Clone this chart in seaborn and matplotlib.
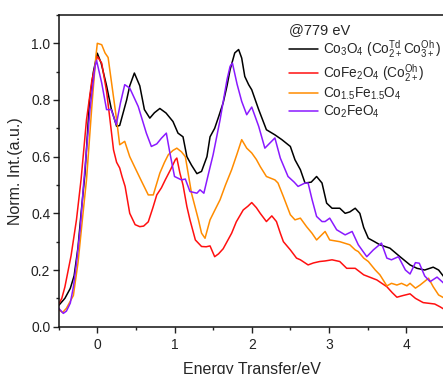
import numpy as np
import pandas as pd
import matplotlib
matplotlib.use("Agg")
import matplotlib.pyplot as plt
from matplotlib.ticker import MultipleLocator
import seaborn as sns

# RIXS spectra excited at 779 eV, normalised intensity vs energy transfer (eV)
co3o4_E = [-0.5, -0.42, -0.35, -0.30, -0.25, -0.21, -0.16, -0.10, -0.05, 0.0, 0.05, 0.12,
           0.18, 0.25, 0.29, 0.35, 0.38, 0.42, 0.48, 0.55, 0.61, 0.68, 0.74, 0.81, 0.89,
           0.98, 1.045, 1.11, 1.16, 1.22, 1.29, 1.35, 1.42, 1.46, 1.52, 1.57, 1.63, 1.68,
           1.72, 1.78, 1.83, 1.87, 1.91, 1.96, 2.0, 2.09, 2.19, 2.30, 2.39, 2.50, 2.56,
           2.63, 2.69, 2.77, 2.84, 2.91, 2.97, 3.04, 3.14, 3.21, 3.27, 3.34, 3.40, 3.45,
           3.51, 3.59, 3.66, 3.79, 3.92, 4.05, 4.14, 4.24, 4.35, 4.42, 4.5]
co3o4_I = [0.075, 0.10, 0.135, 0.18, 0.28, 0.40, 0.54, 0.80, 0.90, 0.965, 0.93, 0.85,
           0.77, 0.707, 0.71, 0.77, 0.80, 0.85, 0.895, 0.85, 0.766, 0.736, 0.755, 0.77, 0.754,
           0.724, 0.683, 0.67, 0.60, 0.57, 0.54, 0.548, 0.60, 0.67, 0.70, 0.74, 0.79, 0.85,
           0.907, 0.966, 0.978, 0.948, 0.883, 0.854, 0.836, 0.766, 0.695, 0.677, 0.66, 0.636, 0.589,
           0.554, 0.507, 0.51, 0.53, 0.507, 0.436, 0.418, 0.418, 0.40, 0.405, 0.418, 0.40, 0.35,
           0.312, 0.30, 0.289, 0.277, 0.247, 0.218, 0.206, 0.20, 0.21, 0.20, 0.172]

cofe2o4_E = [-0.5, -0.46, -0.42, -0.34, -0.27, -0.21, -0.14, -0.07, 0.0, 0.057, 0.12, 0.16,
             0.21, 0.25, 0.29, 0.32, 0.36, 0.42, 0.49, 0.55, 0.60, 0.66, 0.72, 0.77, 0.83,
             0.88, 0.95, 1.01, 1.03, 1.07, 1.11, 1.16, 1.20, 1.27, 1.35, 1.41, 1.46, 1.52,
             1.57, 1.63, 1.68, 1.74, 1.80, 1.89, 1.95, 2.0, 2.06, 2.11, 2.19, 2.26, 2.32,
             2.37, 2.41, 2.50, 2.58, 2.63, 2.73, 2.80, 2.88, 2.95, 3.04, 3.14, 3.23, 3.34,
             3.45, 3.62, 3.75, 3.82, 3.88, 3.96, 4.05, 4.12, 4.22, 4.37, 4.44, 4.5]
cofe2o4_I = [0.08, 0.10, 0.14, 0.25, 0.377, 0.52, 0.73, 0.87, 0.954, 0.93, 0.83, 0.74,
             0.624, 0.58, 0.56, 0.53, 0.495, 0.40, 0.36, 0.353, 0.355, 0.37, 0.42, 0.465, 0.49,
             0.518, 0.555, 0.589, 0.595, 0.542, 0.50, 0.424, 0.377, 0.306, 0.283, 0.282, 0.285, 0.247,
             0.257, 0.275, 0.30, 0.33, 0.37, 0.412, 0.425, 0.438, 0.42, 0.40, 0.371, 0.391, 0.371,
             0.33, 0.30, 0.271, 0.242, 0.236, 0.218, 0.225, 0.23, 0.232, 0.236, 0.23, 0.206, 0.206,
             0.183, 0.165, 0.141, 0.12, 0.104, 0.11, 0.116, 0.10, 0.085, 0.08, 0.07, 0.06]

co15fe15o4_E = [-0.5, -0.45, -0.40, -0.35, -0.31, -0.25, -0.185, -0.14, -0.07, -0.02, 0.0,
                0.057, 0.10, 0.14, 0.18, 0.25, 0.29, 0.355, 0.42, 0.49, 0.575, 0.66, 0.725,
                0.81, 0.87, 0.92, 0.98, 1.03, 1.09, 1.14, 1.22, 1.31, 1.35, 1.395, 1.46, 1.52,
                1.59, 1.66, 1.74, 1.81, 1.87, 1.935, 2.0, 2.06, 2.11, 2.19, 2.30, 2.34, 2.41,
                2.50, 2.56, 2.63, 2.71, 2.78, 2.84, 2.95, 3.01, 3.14, 3.27, 3.34, 3.38, 3.45,
                3.51, 3.60, 3.66, 3.75, 3.81, 3.88, 3.94, 4.01, 4.05, 4.12, 4.18, 4.29, 4.35,
                4.42, 4.5]
co15fe15o4_I = [0.06, 0.05, 0.065, 0.09, 0.11, 0.225, 0.40, 0.518, 0.78, 0.95, 1.0,
                0.995, 0.966, 0.95, 0.87, 0.73, 0.642, 0.654, 0.60, 0.56, 0.512, 0.465, 0.465,
                0.542, 0.58, 0.607, 0.622, 0.63, 0.617, 0.60, 0.471, 0.377, 0.33, 0.312, 0.377, 0.41,
                0.448, 0.50, 0.554, 0.61, 0.66, 0.63, 0.613, 0.59, 0.565, 0.53, 0.518, 0.507, 0.459,
                0.395, 0.377, 0.383, 0.353, 0.33, 0.306, 0.336, 0.306, 0.30, 0.289, 0.271, 0.265, 0.242,
                0.23, 0.20, 0.183, 0.144, 0.153, 0.147, 0.153, 0.144, 0.153, 0.136, 0.147, 0.171, 0.141,
                0.112, 0.10]

co2feo4_E = [-0.5, -0.44, -0.40, -0.35, -0.31, -0.27, -0.22, -0.18, -0.095, -0.03, -0.01,
             0.057, 0.12, 0.18, 0.246, 0.30, 0.355, 0.42, 0.53, 0.635, 0.70, 0.77, 0.83,
             0.894, 0.94, 1.0, 1.09, 1.14, 1.20, 1.29, 1.33, 1.38, 1.44, 1.50, 1.59, 1.68,
             1.72, 1.75, 1.81, 1.87, 1.935, 2.0, 2.09, 2.17, 2.30, 2.37, 2.47, 2.55, 2.60,
             2.69, 2.73, 2.78, 2.84, 2.91, 2.95, 3.01, 3.10, 3.21, 3.30, 3.38, 3.49, 3.575,
             3.68, 3.75, 3.81, 3.90, 3.99, 4.05, 4.12, 4.17, 4.24, 4.31, 4.40, 4.5]
co2feo4_I = [0.065, 0.047, 0.055, 0.083, 0.14, 0.224, 0.35, 0.495, 0.766, 0.919, 0.94,
             0.86, 0.766, 0.766, 0.713, 0.79, 0.854, 0.842, 0.777, 0.683, 0.636, 0.645, 0.665,
             0.683, 0.613, 0.53, 0.518, 0.521, 0.477, 0.471, 0.483, 0.471, 0.54, 0.607, 0.73, 0.872,
             0.919, 0.93, 0.856, 0.795, 0.748, 0.775, 0.707, 0.63, 0.666, 0.595, 0.53, 0.51, 0.495,
             0.507, 0.507, 0.45, 0.389, 0.371, 0.371, 0.383, 0.342, 0.324, 0.336, 0.289, 0.247, 0.271,
             0.295, 0.242, 0.236, 0.247, 0.20, 0.186, 0.226, 0.224, 0.179, 0.159, 0.175, 0.15]

labels = [
    r"Co$_3$O$_4$ (Co$^{Td}_{2+}$Co$^{Oh}_{3+}$)",
    r"CoFe$_2$O$_4$ (Co$^{Oh}_{2+}$)",
    r"Co$_{1.5}$Fe$_{1.5}$O$_4$",
    r"Co$_2$FeO$_4$",
]
colors = ["#000000", "#ff1010", "#ff8c00", "#8a1aff"]
series = [(co3o4_E, co3o4_I), (cofe2o4_E, cofe2o4_I),
          (co15fe15o4_E, co15fe15o4_I), (co2feo4_E, co2feo4_I)]

frames = []
for lab, (e, i) in zip(labels, series):
    frames.append(pd.DataFrame({"Energy": e, "Intensity": i, "Sample": lab}))
df = pd.concat(frames, ignore_index=True)

sns.set_style("ticks")
plt.rcParams["font.family"] = ["Liberation Sans", "DejaVu Sans"]
plt.rcParams["mathtext.fontset"] = "custom"
plt.rcParams["mathtext.rm"] = "Liberation Sans"
plt.rcParams["mathtext.it"] = "Liberation Sans"
plt.rcParams["mathtext.default"] = "regular"

fig = plt.figure(figsize=(4.43, 3.74), dpi=100)
ax = fig.add_axes([0.1325, 0.1265, 0.8715, 0.8335])

sns.lineplot(data=df, x="Energy", y="Intensity", hue="Sample",
             palette=dict(zip(labels, colors)), hue_order=labels,
             estimator=None, sort=False, linewidth=1.1, ax=ax)

ax.set_xlim(-0.5, 4.5)
ax.set_ylim(0, 1.1)
ax.xaxis.set_major_locator(MultipleLocator(1))
ax.xaxis.set_minor_locator(MultipleLocator(0.5))
ax.yaxis.set_major_locator(MultipleLocator(0.2))
ax.yaxis.set_minor_locator(MultipleLocator(0.1))
ax.tick_params(which="major", direction="out", length=4.5, width=1, labelsize=10,
               labelcolor="#222222", color="#222222")
ax.tick_params(which="minor", direction="out", length=2.5, width=1, color="#222222")
ax.tick_params(axis="y", which="major", pad=1.5)
ax.set_yticks(np.arange(0, 1.01, 0.2))
ax.set_yticklabels([f"{v:.1f}" for v in np.arange(0, 1.01, 0.2)])
for s in ax.spines.values():
    s.set_linewidth(1.1)
    s.set_color("#111111")

ax.set_xlabel("Energy Transfer/eV", fontsize=11.5, labelpad=7)
ax.set_ylabel("Norm. Int.(a.u.)", fontsize=11.5, labelpad=6)

handles, _ = ax.get_legend_handles_labels()
leg = ax.legend(handles, labels, title="@779 eV", loc="upper left",
                bbox_to_anchor=(0.637, 0.957), bbox_transform=fig.transFigure,
                frameon=False, fontsize=9.8, title_fontsize=10.5,
                handlelength=2.1, handletextpad=0.4, labelspacing=0.12,
                borderpad=0.0, alignment="left")

fig.savefig("out.png", dpi=100)
